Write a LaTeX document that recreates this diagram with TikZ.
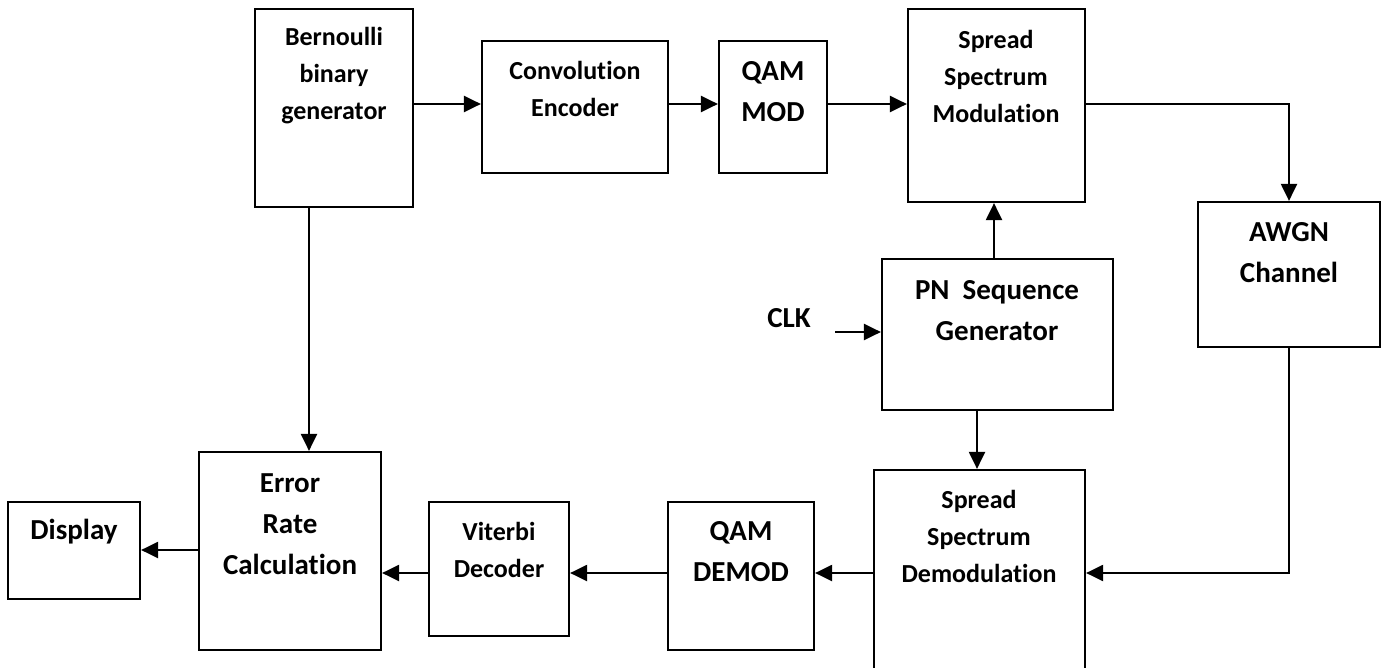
\documentclass[tikz,border=0pt]{standalone}
\usepackage{fontspec}
\setmainfont{Carlito}[Ligatures=CommonOff]
\usetikzlibrary{arrows.meta}
\begin{document}
\begin{tikzpicture}[x=0.5pt,y=-0.5pt,
  box/.style={draw,line width=1.1pt,inner sep=0pt},
  small/.style={font=\bfseries\fontsize{13}{18.5}\selectfont,align=center,inner sep=0pt},
  big/.style={font=\bfseries\fontsize{14.5}{20.5}\selectfont,align=center,inner sep=0pt},
  arr/.style={line width=1.1pt,-{Triangle[length=8.5pt,width=8pt]}}]
\clip (0,0) rectangle (1386,668);
\fill[white] (0,0) rectangle (1386,668);

% transmitter chain
\node[box,minimum width=79pt,minimum height=99pt] (bern) at (334,108) {};
\node[box,minimum width=93pt,minimum height=66pt] (conv) at (575,107) {};
\node[box,minimum width=54pt,minimum height=66pt] (qmod) at (773,107) {};
\node[box,minimum width=88.5pt,minimum height=96.5pt] (smod) at (996.5,105.5) {};
\node[box,minimum width=91pt,minimum height=72.5pt] (awgn) at (1289,274.5) {};
\node[box,minimum width=115.5pt,minimum height=75.5pt] (pn) at (997.5,334.5) {};

% receiver chain
\node[box,minimum width=105.5pt,minimum height=115pt] (sdem) at (979.5,585) {};
\node[box,minimum width=73pt,minimum height=74pt] (qdem) at (741,576) {};
\node[box,minimum width=70pt,minimum height=67pt] (vit) at (499,569) {};
\node[box,minimum width=91pt,minimum height=99pt] (err) at (290,551) {};
\node[box,minimum width=66pt,minimum height=48.5pt] (disp) at (74,550.5) {};

% block labels
\node[small] (bern-t) at (334,76) {Bernoulli\\binary\\generator};
\node[small] (conv-t) at (575,89) {Convolution\\Encoder};
\node[big] (qmod-t) at (773,92) {QAM\\MOD};
\node[small] (smod-t) at (996,76) {Spread\\Spectrum\\Modulation};
\node[big] (awgn-t) at (1289,253) {AWGN\\Channel};
\node[big] (pn-t) at (997,311) {PN~~Sequence\\Generator};
\node[small] (sdem-t) at (979,536) {Spread\\Spectrum\\Demodulation};
\node[big] (qdem-t) at (741,552) {QAM\\DEMOD};
\node[small] (vit-t) at (499,550) {Viterbi\\Decoder};
\node[big] (err-t) at (290,524) {Error\\Rate\\Calculation};
\node[big] (disp-t) at (74,532) {Display};
\node[big] (clk) at (789,318) {CLK};

% connector levels
\coordinate (r1) at (0,104);
\coordinate (r2) at (0,573);
\coordinate (r3) at (0,550);
\coordinate (c1) at (994,0);
\coordinate (c2) at (977,0);
\coordinate (c3) at (309,0);
\coordinate (clkin) at (835,332);

% signal flow
\draw[arr] (bern.east |- r1) -- (conv.west |- r1);
\draw[arr] (conv.east |- r1) -- (qmod.west |- r1);
\draw[arr] (qmod.east |- r1) -- (smod.west |- r1);
\draw[arr] (smod.east |- r1) -| (awgn.north);
\draw[arr] (pn.north -| c1) -- (smod.south -| c1);
\draw[arr] (clkin) -- (pn.west |- clkin);
\draw[arr] (pn.south -| c2) -- (sdem.north -| c2);
\draw[arr] (awgn.south) |- (sdem.east |- r2);
\draw[arr] (sdem.west |- r2) -- (qdem.east |- r2);
\draw[arr] (qdem.west |- r2) -- (vit.east |- r2);
\draw[arr] (vit.west |- r2) -- (err.east |- r2);
\draw[arr] (err.west |- r3) -- (disp.east |- r3);
\draw[arr] (bern.south -| c3) -- (err.north -| c3);
\end{tikzpicture}
\end{document}
